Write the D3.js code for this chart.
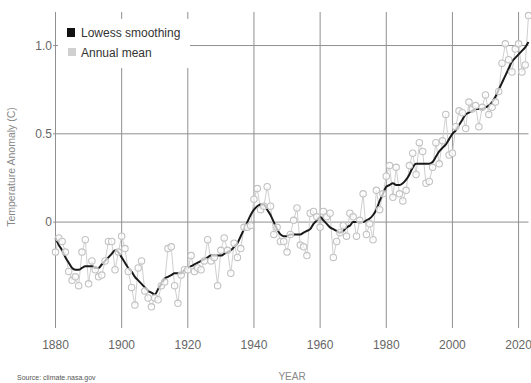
<!DOCTYPE html>
<html>
<head>
<meta charset="utf-8">
<script src="https://cdn.jsdelivr.net/npm/d3@7"></script>
<style>
html,body{margin:0;padding:0;background:#fff;}
svg{display:block;font-family:"Liberation Sans",Arial,sans-serif;}
</style>
</head>
<body>
<svg id="chart" width="531" height="383"></svg>
<script>
const years = d3.range(1880, 2024);
const annualMean = [
-0.17,-0.09,-0.11,-0.17,-0.28,-0.33,-0.31,-0.36,-0.17,-0.10,
-0.35,-0.22,-0.27,-0.31,-0.30,-0.22,-0.11,-0.11,-0.27,-0.17,
-0.08,-0.15,-0.28,-0.37,-0.47,-0.26,-0.22,-0.39,-0.43,-0.48,
-0.43,-0.44,-0.36,-0.34,-0.15,-0.14,-0.36,-0.46,-0.30,-0.27,
-0.27,-0.19,-0.28,-0.26,-0.27,-0.22,-0.10,-0.22,-0.20,-0.36,
-0.16,-0.09,-0.16,-0.29,-0.12,-0.20,-0.15,-0.03,-0.03,-0.02,
0.13,0.19,0.07,0.09,0.20,0.09,-0.07,-0.03,-0.11,-0.11,
-0.17,-0.07,0.01,0.08,-0.13,-0.14,-0.19,0.05,0.06,0.03,
-0.03,0.06,0.03,0.05,-0.20,-0.11,-0.06,-0.02,-0.08,0.05,
0.03,-0.08,0.01,0.16,-0.07,-0.01,-0.10,0.18,0.07,0.16,
0.26,0.32,0.14,0.31,0.16,0.12,0.18,0.32,0.39,0.27,
0.45,0.40,0.22,0.23,0.31,0.45,0.33,0.46,0.61,0.38,
0.39,0.54,0.63,0.62,0.53,0.68,0.64,0.66,0.54,0.65,
0.72,0.61,0.65,0.68,0.74,0.90,1.01,0.92,0.85,0.98,
1.01,0.85,0.89,1.17];
const lowess = [
-0.09,-0.13,-0.16,-0.20,-0.23,-0.26,-0.27,-0.27,-0.26,-0.25,
-0.25,-0.25,-0.26,-0.26,-0.24,-0.22,-0.20,-0.18,-0.16,-0.17,
-0.20,-0.23,-0.26,-0.28,-0.31,-0.33,-0.35,-0.37,-0.39,-0.40,
-0.41,-0.38,-0.35,-0.32,-0.31,-0.30,-0.29,-0.29,-0.29,-0.27,
-0.26,-0.25,-0.24,-0.23,-0.22,-0.21,-0.20,-0.19,-0.19,-0.19,
-0.19,-0.18,-0.17,-0.16,-0.14,-0.12,-0.08,-0.04,0.00,0.04,
0.07,0.09,0.10,0.10,0.07,0.04,0.00,-0.04,-0.07,-0.08,
-0.08,-0.07,-0.07,-0.07,-0.07,-0.06,-0.05,-0.04,-0.01,0.01,
0.03,0.01,-0.01,-0.03,-0.04,-0.05,-0.06,-0.05,-0.03,-0.02,
0.00,0.00,0.00,0.00,0.01,0.02,0.04,0.07,0.12,0.16,
0.20,0.21,0.22,0.21,0.21,0.22,0.24,0.27,0.31,0.33,
0.33,0.33,0.33,0.33,0.34,0.37,0.40,0.42,0.44,0.47,
0.50,0.52,0.55,0.58,0.61,0.62,0.63,0.64,0.64,0.64,
0.65,0.66,0.68,0.71,0.75,0.79,0.83,0.87,0.91,0.93,
0.95,0.97,0.99,1.02];
const xTicks = [1880, 1900, 1920, 1940, 1960, 1980, 2000, 2020];
const yTicks = [0, 0.5, 1.0];
const yTickLabels = ["0", "0.5", "1.0"];
const legendLabels = ["Lowess smoothing", "Annual mean"];

const svg = d3.select("#chart");
const x = d3.scaleLinear().domain([1880, 2023]).range([55.5, 528.5]);
const y = d3.scaleLinear().domain([-0.6, 1.19]).range([328, 12]);

// vertical grid
svg.append("g").selectAll("line").data(xTicks).join("line")
  .attr("x1", d => x(d)).attr("x2", d => x(d))
  .attr("y1", y(1.19)).attr("y2", y(-0.6))
  .attr("stroke", "#909090").attr("stroke-width", 1);
// horizontal grid
svg.append("g").selectAll("line").data(yTicks).join("line")
  .attr("x1", 53).attr("x2", x(2023))
  .attr("y1", d => y(d)).attr("y2", d => y(d))
  .attr("stroke", "#909090").attr("stroke-width", 1);

// tick labels
svg.append("g").selectAll("text").data(xTicks).join("text")
  .attr("x", d => x(d)).attr("y", 349)
  .attr("text-anchor", "middle").attr("font-size", 12).attr("fill", "#666")
  .text(d => d);
svg.append("g").selectAll("text").data(yTicks).join("text")
  .attr("x", 52).attr("y", d => y(d) + 4)
  .attr("text-anchor", "end").attr("font-size", 12).attr("fill", "#666")
  .text((d, i) => yTickLabels[i]);

// axis titles
svg.append("text").attr("transform", "translate(15,167) rotate(-90)")
  .attr("text-anchor", "middle").attr("font-size", 10.5).attr("fill", "#888")
  .text("Temperature Anomaly (C)");
svg.append("text").attr("x", 292).attr("y", 380)
  .attr("text-anchor", "middle").attr("font-size", 10).attr("fill", "#888")
  .text("YEAR");
svg.append("text").attr("x", 17).attr("y", 380)
  .attr("font-size", 7).attr("fill", "#555")
  .text("Source: climate.nasa.gov");

const data = years.map((yr, i) => ({yr, a: annualMean[i], l: lowess[i]}));

// annual mean line
svg.append("path").datum(data)
  .attr("fill", "none").attr("stroke", "#cfcfcf").attr("stroke-width", 1)
  .attr("d", d3.line().x(d => x(d.yr)).y(d => y(d.a)));
// lowess
svg.append("path").datum(data)
  .attr("fill", "none").attr("stroke", "#1a1a1a").attr("stroke-width", 2)
  .attr("d", d3.line().curve(d3.curveMonotoneX).x(d => x(d.yr)).y(d => y(d.l)));
// markers
svg.append("g").selectAll("circle").data(data).join("circle")
  .attr("cx", d => x(d.yr)).attr("cy", d => y(d.a)).attr("r", 3.2)
  .attr("fill", "#fff").attr("fill-opacity", 0.7)
  .attr("stroke", "#c2c2c2").attr("stroke-width", 1.1);

// legend
svg.append("rect").attr("x", 58).attr("y", 19).attr("width", 132).attr("height", 49).attr("fill", "#fff");
const lg = svg.append("g");
lg.append("rect").attr("x", 67).attr("y", 28).attr("width", 8).attr("height", 9).attr("fill", "#111");
lg.append("rect").attr("x", 68).attr("y", 48).attr("width", 8).attr("height", 8).attr("fill", "#d0d0d0");
lg.selectAll("text").data(legendLabels).join("text")
  .attr("x", 81).attr("y", (d, i) => 37 + i * 20)
  .attr("font-size", 12).attr("fill", "#333")
  .text(d => d);
</script>
</body>
</html>
